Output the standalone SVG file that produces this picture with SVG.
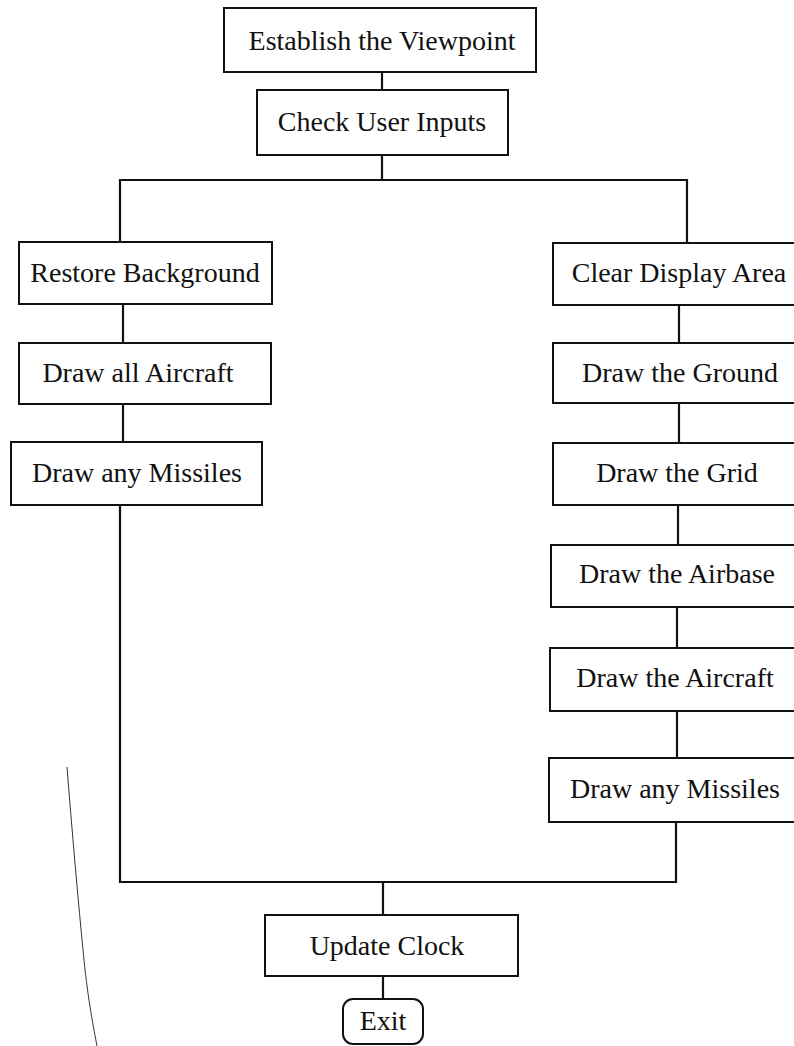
<svg xmlns="http://www.w3.org/2000/svg" width="794" height="1046" viewBox="0 0 794 1046">
  <style>
    .box { fill: #fff; stroke: #111; stroke-width: 2; }
    .lbl { font-family: "Liberation Serif", "Times New Roman", serif; font-size: 28px; fill: #111; text-anchor: middle; }
    .wire { fill: none; stroke: #111; stroke-width: 2.2; }
  </style>
  <rect width="794" height="1046" fill="#fff"/>

  <!-- connectors -->
  <g id="connectors">
    <path class="wire" d="M382 72 V90"/>
    <path class="wire" d="M382 155 V180"/>
    <path class="wire" d="M120 242 V180 H687 V243"/>
    <path class="wire" d="M123 304 V343"/>
    <path class="wire" d="M123 404 V442"/>
    <path class="wire" d="M679 305 V343"/>
    <path class="wire" d="M679 403 V443"/>
    <path class="wire" d="M678 505 V545"/>
    <path class="wire" d="M677 607 V648"/>
    <path class="wire" d="M677 711 V758"/>
    <path class="wire" d="M120 505 V882 H676 V822"/>
    <path class="wire" d="M383 882 V915"/>
    <path class="wire" d="M383 976 V999"/>
  </g>

  <g id="establish-viewpoint">
    <rect class="box" x="224" y="8" width="312" height="64"/>
    <text class="lbl" x="382" y="50">Establish the Viewpoint</text>
  </g>
  <g id="check-user-inputs">
    <rect class="box" x="257" y="90" width="251" height="65"/>
    <text class="lbl" x="382" y="131">Check User Inputs</text>
  </g>

  <g id="restore-background">
    <rect class="box" x="19" y="242" width="253" height="62"/>
    <text class="lbl" x="145" y="282">Restore Background</text>
  </g>
  <g id="draw-all-aircraft">
    <rect class="box" x="19" y="343" width="252" height="61"/>
    <text class="lbl" x="138" y="382">Draw all Aircraft</text>
  </g>
  <g id="draw-any-missiles-left">
    <rect class="box" x="11" y="442" width="251" height="63"/>
    <text class="lbl" x="137" y="482">Draw any Missiles</text>
  </g>

  <g id="clear-display-area">
    <rect class="box" x="553" y="243" width="250" height="62"/>
    <text class="lbl" x="679" y="282">Clear Display Area</text>
  </g>
  <g id="draw-the-ground">
    <rect class="box" x="553" y="343" width="250" height="60"/>
    <text class="lbl" x="680" y="382">Draw the Ground</text>
  </g>
  <g id="draw-the-grid">
    <rect class="box" x="553" y="443" width="250" height="62"/>
    <text class="lbl" x="677" y="482">Draw the Grid</text>
  </g>
  <g id="draw-the-airbase">
    <rect class="box" x="551" y="545" width="252" height="62"/>
    <text class="lbl" x="677" y="583">Draw the Airbase</text>
  </g>
  <g id="draw-the-aircraft">
    <rect class="box" x="550" y="648" width="253" height="63"/>
    <text class="lbl" x="675" y="687">Draw the Aircraft</text>
  </g>
  <g id="draw-any-missiles-right">
    <rect class="box" x="549" y="758" width="254" height="64"/>
    <text class="lbl" x="675" y="798">Draw any Missiles</text>
  </g>

  <g id="update-clock">
    <rect class="box" x="265" y="915" width="253" height="61"/>
    <text class="lbl" x="387" y="955">Update Clock</text>
  </g>
  <g id="exit">
    <rect class="box" x="343" y="999" width="80" height="45" rx="10" ry="10"/>
    <text class="lbl" x="383" y="1030">Exit</text>
  </g>

  <!-- stray pencil mark at lower left -->
  <path d="M67 767 C72 830 78 900 84 960 C88 1000 94 1030 97 1046" fill="none" stroke="#333" stroke-width="1"/>
</svg>
